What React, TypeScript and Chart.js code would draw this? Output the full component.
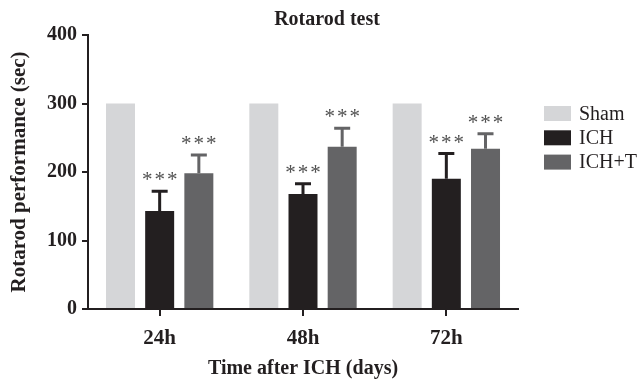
import React, { useEffect, useRef } from "react";
import { Chart, registerables } from "chart.js";

Chart.register(...registerables);

const categories = ["24h", "48h", "72h"];
const seriesNames = ["Sham", "ICH", "ICH+T"];
const shamValues = [300, 300, 300];
const ichValues = [143, 168, 190];
const ichtValues = [198, 237, 234];
const shamErrors = [0, 0, 0];
const ichErrors = [29, 15, 37];
const ichtErrors = [27, 27, 22];
const shamStars = ["", "", ""];
const ichStars = ["***", "***", "***"];
const ichtStars = ["***", "***", "***"];
const yTicks = [0, 100, 200, 300, 400];

const colors = ["#d5d6d8", "#231f20", "#646466"];
const FONT = "'Liberation Serif', 'Times New Roman', serif";
const AXIS = "#231f20";

const errorsAll = [shamErrors, ichErrors, ichtErrors];
const starsAll = [shamStars, ichStars, ichtStars];

const extrasPlugin = {
  id: "extras",
  afterDatasetsDraw(chart: any) {
    const ctx = chart.ctx;
    const y = chart.scales.y;
    chart.data.datasets.forEach((ds: any, di: number) => {
      const meta = chart.getDatasetMeta(di);
      meta.data.forEach((bar: any, i: number) => {
        const err = errorsAll[di][i];
        const v = ds.data[i];
        const top = y.getPixelForValue(v);
        let capY = top;
        if (err > 0) {
          capY = y.getPixelForValue(v + err);
          ctx.save();
          ctx.strokeStyle = colors[di];
          ctx.lineWidth = 3;
          ctx.beginPath();
          ctx.moveTo(bar.x, top);
          ctx.lineTo(bar.x, capY);
          ctx.moveTo(bar.x - 8, capY);
          ctx.lineTo(bar.x + 8, capY);
          ctx.stroke();
          ctx.restore();
        }
        const s = starsAll[di][i];
        if (s) {
          ctx.save();
          ctx.fillStyle = "#505050";
          ctx.font = `21px ${FONT}`;
          ctx.textAlign = "center";
          ctx.textBaseline = "alphabetic";
          const cy = capY - 16;
          const chars = s.split("");
          chars.forEach((c: string, k: number) => {
            const off = (k - (chars.length - 1) / 2) * 12.5;
            ctx.fillText(c, bar.x + off, cy + 11);
          });
          ctx.restore();
        }
      });
    });

    // title
    ctx.save();
    ctx.fillStyle = AXIS;
    ctx.font = `bold 20px ${FONT}`;
    ctx.textAlign = "center";
    ctx.textBaseline = "middle";
    ctx.fillText("Rotarod test", 327, 20);
    ctx.restore();

    // legend
    ctx.save();
    chart.data.datasets.forEach((ds: any, di: number) => {
      const cy = 113.5 + di * 24.3;
      ctx.fillStyle = ds.backgroundColor;
      ctx.fillRect(544, cy - 7.5, 27, 15);
      ctx.fillStyle = AXIS;
      ctx.font = `20px ${FONT}`;
      ctx.textAlign = "left";
      ctx.textBaseline = "middle";
      ctx.fillText(ds.label, 579, cy + 1);
    });
    ctx.restore();
  },
};

export default function App() {
  const ref = useRef<HTMLCanvasElement | null>(null);
  useEffect(() => {
    if (!ref.current) return;
    const chart = new Chart(ref.current, {
      type: "bar",
      data: {
        labels: categories,
        datasets: [
          { label: seriesNames[0], data: shamValues, backgroundColor: colors[0] },
          { label: seriesNames[1], data: ichValues, backgroundColor: colors[1] },
          { label: seriesNames[2], data: ichtValues, backgroundColor: colors[2] },
        ],
      },
      options: {
        responsive: false,
        animation: false,
        devicePixelRatio: 1,
        layout: { padding: { top: 35, right: 122, bottom: 0, left: 0 } },
        datasets: { bar: { barPercentage: 0.74, categoryPercentage: 0.82 } },
        plugins: { legend: { display: false }, title: { display: false }, tooltip: { enabled: false } },
        scales: {
          x: {
            grid: { offset: false, drawOnChartArea: false, drawTicks: true, tickLength: 7, color: AXIS, lineWidth: 2 },
            border: { display: true, color: AXIS, width: 2 },
            ticks: { color: AXIS, font: { family: FONT, size: 21, weight: "bold" }, padding: 10 },
            title: {
              display: true,
              text: "Time after ICH (days)",
              color: AXIS,
              font: { family: FONT, size: 20, weight: "bold" },
              padding: { top: 8, bottom: 0 },
            },
            afterFit(scale: any) {
              scale.height = 72;
            },
          },
          y: {
            min: 0,
            max: 400,
            afterBuildTicks(scale: any) {
              scale.ticks = yTicks.map((v) => ({ value: v }));
            },
            grid: { drawOnChartArea: false, drawTicks: true, tickLength: 6, color: AXIS, lineWidth: 2 },
            border: { display: true, color: AXIS, width: 2 },
            ticks: { color: AXIS, font: { family: FONT, size: 20, weight: "bold" }, padding: 5 },
            title: {
              display: true,
              text: "Rotarod performance (sec)",
              color: AXIS,
              font: { family: FONT, size: 21, weight: "bold" },
              padding: { top: 7, bottom: 0 },
            },
            afterFit(scale: any) {
              scale.width = 88;
            },
          },
        },
      },
      plugins: [extrasPlugin],
    } as any);
    return () => chart.destroy();
  }, []);
  return (
    <div style={{ position: "absolute", left: 0, top: 0, width: 640, height: 381, background: "#fff" }}>
      <canvas ref={ref} width={640} height={381} />
    </div>
  );
}
